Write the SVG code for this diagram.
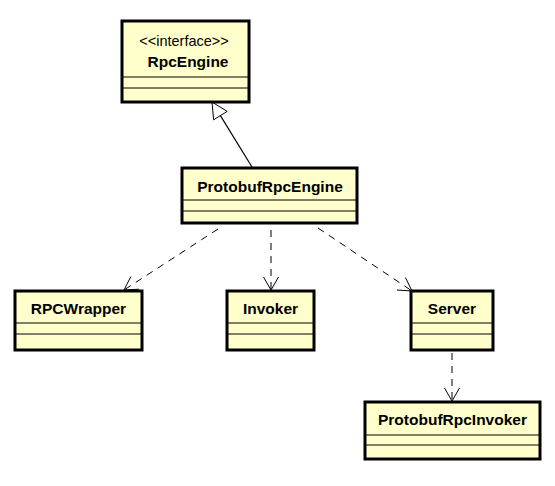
<svg xmlns="http://www.w3.org/2000/svg" width="555" height="486" viewBox="0 0 555 486">
<style>
.box{fill:#ffffcc;stroke:#000;stroke-width:3}
.sep{stroke:#000;stroke-width:1}
.name{font-family:"Liberation Sans",Arial,sans-serif;font-weight:bold;font-size:15.5px;text-anchor:middle;fill:#000}
.st{font-family:"Liberation Sans",Arial,sans-serif;font-size:14.5px;text-anchor:middle;fill:#000}
.dep{fill:none;stroke:#000;stroke-width:1;stroke-dasharray:7 6}
.head{fill:none;stroke:#000;stroke-width:1}
</style>
<rect width="555" height="486" fill="#fff"/>
<g id="connectors">
<line x1="252" y1="167" x2="220.4" y2="115.6" stroke="#000" stroke-width="1.2"/>
<polygon points="212,102 213.6,119.8 227.2,111.4" fill="#fff" stroke="#000" stroke-width="1"/>
<line class="dep" x1="218" y1="229" x2="124" y2="290"/>
<polyline class="head" points="130.8,276.6 124,290 139,289.2"/>
<line class="dep" x1="271" y1="230" x2="271" y2="290"/>
<polyline class="head" points="263.5,277 271,290 278.5,277"/>
<line class="dep" x1="318" y1="228" x2="412" y2="291"/>
<polyline class="head" points="405.4,277.5 412,291 397,290"/>
<line class="dep" x1="452" y1="353" x2="452" y2="401"/>
<polyline class="head" points="444.5,388 452,401 459.5,388"/>
</g>
<g id="RpcEngine">
<rect class="box" x="122" y="21" width="127" height="81"/>
<line class="sep" x1="122" y1="77" x2="249" y2="77"/>
<line class="sep" x1="122" y1="88" x2="249" y2="88"/>
<text class="st" x="184" y="46">&lt;&lt;interface&gt;&gt;</text>
<text class="name" x="188" y="67">RpcEngine</text>
</g>
<g id="ProtobufRpcEngine">
<rect class="box" x="182" y="168" width="175" height="55"/>
<line class="sep" x1="182" y1="200" x2="357" y2="200"/>
<line class="sep" x1="182" y1="211" x2="357" y2="211"/>
<text class="name" x="270" y="192">ProtobufRpcEngine</text>
</g>
<g id="RPCWrapper">
<rect class="box" x="15" y="291" width="127" height="59"/>
<line class="sep" x1="15" y1="323" x2="142" y2="323"/>
<line class="sep" x1="15" y1="334" x2="142" y2="334"/>
<text class="name" x="78.5" y="314">RPCWrapper</text>
</g>
<g id="Invoker">
<rect class="box" x="227" y="291" width="87" height="59"/>
<line class="sep" x1="227" y1="323" x2="314" y2="323"/>
<line class="sep" x1="227" y1="334" x2="314" y2="334"/>
<text class="name" x="270.5" y="314">Invoker</text>
</g>
<g id="Server">
<rect class="box" x="411" y="291" width="82" height="59"/>
<line class="sep" x1="411" y1="323" x2="493" y2="323"/>
<line class="sep" x1="411" y1="334" x2="493" y2="334"/>
<text class="name" x="452" y="314">Server</text>
</g>
<g id="ProtobufRpcInvoker">
<rect class="box" x="365" y="402" width="175" height="57"/>
<line class="sep" x1="365" y1="435" x2="540" y2="435"/>
<line class="sep" x1="365" y1="445" x2="540" y2="445"/>
<text class="name" x="452.5" y="425">ProtobufRpcInvoker</text>
</g>
</svg>
